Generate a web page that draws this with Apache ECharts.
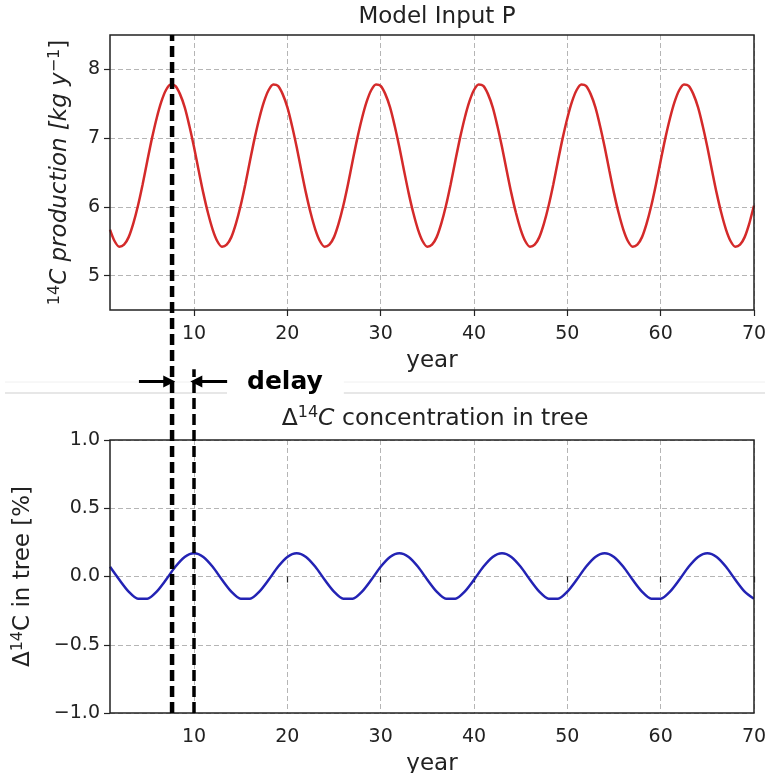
<!DOCTYPE html>
<html>
<head>
<meta charset="utf-8">
<script src="https://cdn.jsdelivr.net/npm/echarts@6/dist/echarts.min.js"></script>
<style>html,body{margin:0;padding:0;background:#fff}#c{width:765px;height:773px}</style>
</head>
<body>
<div id="c"></div>
<script>
// ---- data ----
// production sampled every half year from year 1 to year 70
const prodYears = Array.from({length: 139}, (_, i) => 1 + i * 0.5);
const production = [
  5.67,5.50,5.42,5.45,5.56,5.76,6.02,6.33,6.67,7.00,7.29,7.53,7.70,7.78,7.76,7.64,7.45,7.18,6.87,6.53,6.20,5.91,
  5.67,5.50,5.42,5.45,5.56,5.76,6.02,6.33,6.67,7.00,7.29,7.53,7.70,7.78,7.76,7.64,7.45,7.18,6.87,6.53,6.20,5.91,
  5.67,5.50,5.42,5.45,5.56,5.76,6.02,6.33,6.67,7.00,7.29,7.53,7.70,7.78,7.76,7.64,7.45,7.18,6.87,6.53,6.20,5.91,
  5.67,5.50,5.42,5.45,5.56,5.76,6.02,6.33,6.67,7.00,7.29,7.53,7.70,7.78,7.76,7.64,7.45,7.18,6.87,6.53,6.20,5.91,
  5.67,5.50,5.42,5.45,5.56,5.76,6.02,6.33,6.67,7.00,7.29,7.53,7.70,7.78,7.76,7.64,7.45,7.18,6.87,6.53,6.20,5.91,
  5.67,5.50,5.42,5.45,5.56,5.76,6.02,6.33,6.67,7.00,7.29,7.53,7.70,7.78,7.76,7.64,7.45,7.18,6.87,6.53,6.20,5.91,
  5.67,5.50,5.42,5.45,5.56,5.76,6.02
];
// tree Δ14C, one value per year from year 1 to year 70
const treeYears = Array.from({length: 70}, (_, i) => i + 1);
const treeDelta = [
  0.071,-0.024,-0.111,-0.163,-0.163,-0.111,-0.024,0.071,0.143,0.170,0.143,
  0.071,-0.024,-0.111,-0.163,-0.163,-0.111,-0.024,0.071,0.143,0.170,0.143,
  0.071,-0.024,-0.111,-0.163,-0.163,-0.111,-0.024,0.071,0.143,0.170,0.143,
  0.071,-0.024,-0.111,-0.163,-0.163,-0.111,-0.024,0.071,0.143,0.170,0.143,
  0.071,-0.024,-0.111,-0.163,-0.163,-0.111,-0.024,0.071,0.143,0.170,0.143,
  0.071,-0.024,-0.111,-0.163,-0.163,-0.111,-0.024,0.071,0.143,0.170,0.143,
  0.071,-0.024,-0.111,-0.163
];
const xTicks = [10, 20, 30, 40, 50, 60, 70];
const prodTicks = [5, 6, 7, 8];
const inputPeakYear = 7.65;   // production maximum
const treePeakYear = 10;      // tree maximum (delayed)

// ---- chart ----
const FONT = 'DejaVu Sans';
const TXT = '#222';
const chart = echarts.init(document.getElementById('c'), null, {renderer: 'canvas'});

const gridStyle = {show: true, borderColor: '#222', borderWidth: 1.5, backgroundColor: 'transparent', z: 5,
  containLabel: false, outerBoundsMode: 'none'};
const split = {show: true, lineStyle: {color: '#b5b5b5', type: [5, 3], width: 1}};
const tick = {show: true, inside: false, length: 6, lineStyle: {color: '#222', width: 1.2}};

function xAxisFor(idx) {
  return {
    type: 'value', gridIndex: idx, min: 1, max: 70,
    axisLine: {show: false},
    axisTick: Object.assign({customValues: xTicks}, tick),
    axisLabel: {customValues: xTicks, fontFamily: FONT, fontSize: 19, color: TXT, margin: 15},
    splitLine: split,
    name: 'year', nameLocation: 'middle', nameGap: 40,
    nameTextStyle: {fontFamily: FONT, fontSize: 23, color: TXT}
  };
}

const subStyle = {fontFamily: FONT, fontSize: 16, verticalAlign: 'top', color: TXT};

const option = {
  animation: false,
  backgroundColor: '#fff',
  title: [
    {
      text: 'Model Input P', left: 432, top: 1, textAlign: 'center',
      textStyle: {fontFamily: FONT, fontSize: 23, fontWeight: 'normal', color: TXT}
    },
    {
      text: '{n|Δ}{s|14}{i|C}{n| concentration in tree}', left: 430, top: 400, textAlign: 'center',
      textStyle: {
        fontFamily: FONT, fontSize: 23.5, fontWeight: 'normal', color: TXT,
        rich: {
          n: {fontFamily: FONT, fontSize: 23.5, color: TXT, lineHeight: 27},
          i: {fontFamily: FONT, fontSize: 23.5, fontStyle: 'italic', color: TXT, lineHeight: 27},
          s: subStyle
        }
      }
    }
  ],
  grid: [
    Object.assign({left: 110, top: 35, width: 644, height: 275}, gridStyle),
    Object.assign({left: 110, top: 440, width: 644, height: 273}, gridStyle),
    {left: 110, top: 35, width: 644, height: 678, show: false, containLabel: false, outerBoundsMode: 'none'}
  ],
  xAxis: [
    xAxisFor(0),
    xAxisFor(1),
    {type: 'value', gridIndex: 2, min: 1, max: 70, show: false, splitLine: {show: false}}
  ],
  yAxis: [
    {
      type: 'value', gridIndex: 0, min: 4.5, max: 8.5,
      axisLine: {show: false},
      axisTick: Object.assign({customValues: prodTicks}, tick),
      axisLabel: {customValues: prodTicks, fontFamily: FONT, fontSize: 19, color: TXT, margin: 10},
      splitLine: split,
      name: '{s|14}{i|C production [kg y}{s|−1}{n|]}',
      nameLocation: 'middle', nameGap: 36,
      nameTextStyle: {
        fontFamily: FONT, fontSize: 23, color: TXT,
        rich: {
          s: subStyle,
          i: {fontFamily: FONT, fontSize: 23, fontStyle: 'italic', color: TXT, lineHeight: 27},
          n: {fontFamily: FONT, fontSize: 23, color: TXT, lineHeight: 27}
        }
      }
    },
    {
      type: 'value', gridIndex: 1, min: -1, max: 1, interval: 0.5,
      axisLine: {show: false},
      axisTick: tick,
      axisLabel: {
        fontFamily: FONT, fontSize: 19, color: TXT, margin: 10,
        formatter: v => v.toFixed(1).replace('-', '−')
      },
      splitLine: split,
      name: '{n|Δ}{s|14}{n|C in tree [%]}',
      nameLocation: 'middle', nameGap: 73,
      nameTextStyle: {
        fontFamily: FONT, fontSize: 23, color: TXT,
        rich: {
          s: subStyle,
          n: {fontFamily: FONT, fontSize: 23, color: TXT, lineHeight: 27}
        }
      }
    },
    {type: 'value', gridIndex: 2, min: 0, max: 1, show: false, splitLine: {show: false}}
  ],
  series: [
    {
      type: 'line', xAxisIndex: 0, yAxisIndex: 0, smooth: 0.3, showSymbol: false,
      data: prodYears.map((y, i) => [y, production[i]]),
      lineStyle: {color: '#d42a2a', width: 2.5}, z: 3
    },
    {
      type: 'line', xAxisIndex: 1, yAxisIndex: 1, smooth: 0.25, showSymbol: false,
      data: treeYears.map((y, i) => [y, treeDelta[i]]),
      lineStyle: {color: '#2323b4', width: 2.5}, z: 3
    },
    {
      type: 'line', xAxisIndex: 2, yAxisIndex: 2, showSymbol: false, z: 10,
      data: [[inputPeakYear, 0], [inputPeakYear, 1]],
      lineStyle: {color: '#000', width: 4.5, type: [11, 5]}
    },
    {
      type: 'line', xAxisIndex: 2, yAxisIndex: 2, showSymbol: false, z: 10,
      data: [[treePeakYear, 0], [treePeakYear, 0.507]],
      lineStyle: {color: '#000', width: 3.5, type: [11, 5]}
    },
    {
      type: 'lines', coordinateSystem: 'cartesian2d', xAxisIndex: 2, yAxisIndex: 2, z: 11,
      symbol: ['none', 'triangle'], symbolSize: [13, 12],
      lineStyle: {color: '#000', width: 3, opacity: 1, curveness: 0},
      data: [
        {coords: [[inputPeakYear - 3.55, 0.489], [inputPeakYear - 0.3, 0.489]]},
        {coords: [[treePeakYear + 3.55, 0.489], [treePeakYear + 0.25, 0.489]]}
      ]
    }
  ],
  graphic: [
    {type: 'line', shape: {x1: 5, y1: 382, x2: 765, y2: 382}, style: {stroke: '#f0f0f0', lineWidth: 1}, z: 0},
    {type: 'line', shape: {x1: 5, y1: 393, x2: 765, y2: 393}, style: {stroke: '#cfcfcf', lineWidth: 1}, z: 1},
    {
      type: 'text', left: 227, top: 370, z: 5,
      style: {
        text: 'delay', fill: '#000', font: 'bold 25px "DejaVu Sans"',
        backgroundColor: '#fff', padding: [0, 21, 0, 20]
      }
    }
  ]
};
chart.setOption(option);
</script>
</body>
</html>
